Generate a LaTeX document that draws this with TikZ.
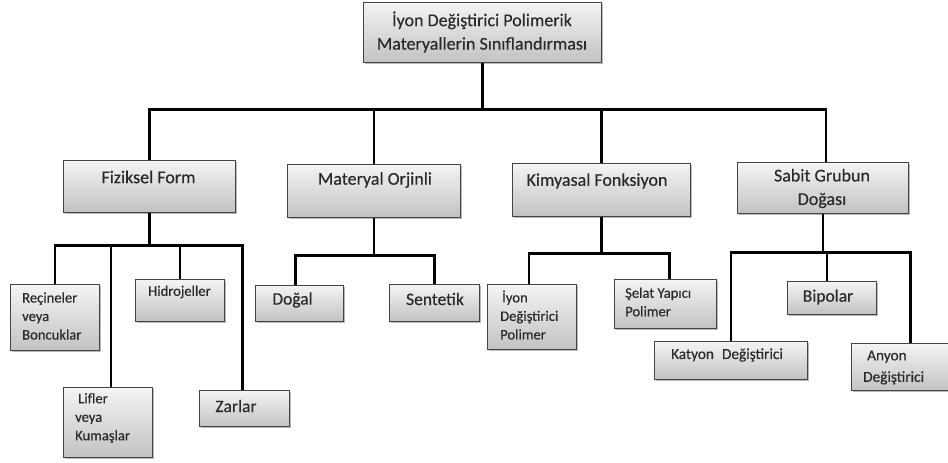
\documentclass[tikz,border=0pt]{standalone}
\usepackage{fontspec}
\setmainfont{Carlito}
\newfontfamily\tf{Carlito}[FakeBold=0.35]
\usetikzlibrary{shadows}
\definecolor{boxtop}{HTML}{F4F4F4}
\definecolor{boxbot}{HTML}{C2C2C2}
\definecolor{boxline}{HTML}{444444}
\definecolor{txtc}{HTML}{2A2A2A}
\tikzset{
  box/.style={draw=boxline, line width=1.1pt, top color=boxtop, bottom color=boxbot,
    anchor=north west, inner sep=0pt,
    drop shadow={shadow xshift=1.5pt, shadow yshift=-1.5pt, fill=black!45, opacity=0.6}},
  conn/.style={draw=black, line width=2.8pt},
  big/.style={text=txtc, font=\tf\fontsize{18}{23.5}\selectfont, inner sep=0pt, align=center},
  mid/.style={text=txtc, font=\tf\fontsize{17.5}{22}\selectfont, inner sep=0pt, align=center},
  sml/.style={text=txtc, font=\tf\fontsize{14.6}{18.5}\selectfont, inner sep=0pt, align=left},
  kat/.style={text=txtc, font=\tf\fontsize{15.3}{21.5}\selectfont, inner sep=0pt, align=left},
}
\newcommand{\mkbox}[5]{\node[box, minimum width={(#4-#2)*1pt}, minimum height={(#5-#3)*1pt}] (#1) at (#2,#3) {};}
\begin{document}
\begin{tikzpicture}[x=1pt,y=-1pt]
\useasboundingbox (0,0) rectangle (948,463);
% boxes
\mkbox{top}{363}{2}{601}{62}
\mkbox{fz}{63}{160}{235}{212}
\mkbox{mo}{287}{164}{460}{217}
\mkbox{kf}{512}{163}{690}{216}
\mkbox{sg}{737}{162}{908}{213}
\mkbox{rc}{10}{284}{99}{350}
\mkbox{lf}{63}{387}{152}{457}
\mkbox{hj}{135}{279}{224}{321}
\mkbox{zr}{199}{390}{289}{426}
\mkbox{dg}{255}{285}{343}{321}
\mkbox{st}{389}{284}{479}{321}
\mkbox{id}{487}{284}{576}{349}
\mkbox{sy}{614}{279}{716}{328}
\mkbox{bp}{787}{281}{876}{314}
\mkbox{ky}{654}{341}{807}{379}
\mkbox{an}{851}{343}{952}{390}
% texts
\node[big] (top-t) at (482,32) {İyon Değiştirici Polimerik\\Materyallerin Sınıflandırması};
\node[big] (fz-t) at (148.5,177) {Fiziksel Form};
\node[big] (mo-t) at (375,180) {Materyal Orjinli};
\node[big] (kf-t) at (597,181) {Kimyasal Fonksiyon};
\node[big] (sg-t) at (822,188.5) {Sabit Grubun\\Doğası};
\node[sml, anchor=west] (rc-t) at (22,316) {Reçineler\\veya\\Boncuklar};
\node[sml, anchor=west] (lf-t) at (75,418) {\hspace{3pt}Lifler\\veya\\Kumaşlar};
\node[sml, anchor=west] (hj-t) at (148,292) {Hidrojeller};
\node[mid] (zr-t) at (236,406) {Zarlar};
\node[mid] (dg-t) at (292.5,300) {Doğal};
\node[mid] (st-t) at (435,299) {Sentetik};
\node[sml, anchor=west] (id-t) at (500,315) {\hspace{2pt}İyon\\Değiştirici\\Polimer};
\node[sml, anchor=west] (sy-t) at (625,302) {Şelat Yapıcı\\Polimer};
\node[mid] (bp-t) at (828,297) {Bipolar};
\node[kat] (ky-t) at (727,355) {Katyon\hspace{0.3em} Değiştirici};
\node[kat, anchor=west] (an-t) at (863,367.5) {\hspace{4pt}Anyon\\Değiştirici};
% connectors
\draw[conn] (top.south) -- ++(0,46) -| (fz.north);
\draw[conn] (top.south) -- ++(0,46) -| (mo.north);
\draw[conn] (top.south) -- ++(0,46) -| (kf.north);
\draw[conn] (top.south) -- ++(0,46) -| ([xshift=3pt]sg.north);
\draw[conn] (fz.south) -- ++(0,32) -| (rc.north);
\draw[conn] (fz.south) -- ++(0,32) -| ([xshift=3pt]lf.north);
\draw[conn] (fz.south) -- ++(0,32) -| (hj.north);
\draw[conn] (fz.south) -- ++(0,32) -| ([xshift=-2pt]zr.north);
\draw[conn] (mo.south) -- ++(0,37) -| ([xshift=-4pt]dg.north);
\draw[conn] (mo.south) -- ++(0,37) -| (st.north);
\draw[conn] (kf.south) -- ++(0,36) -| ([xshift=-3pt]id.north);
\draw[conn] (kf.south) -- ++(0,36) -| ([xshift=4pt]sy.north);
\draw[conn] (sg.south) -- ++(0,38) -| (ky.north);
\draw[conn] (sg.south) -- ++(0,38) -| ([xshift=-5pt]bp.north);
\draw[conn] (sg.south) -- ++(0,38) -| ([xshift=8.5pt]an.north);
\end{tikzpicture}
\end{document}
